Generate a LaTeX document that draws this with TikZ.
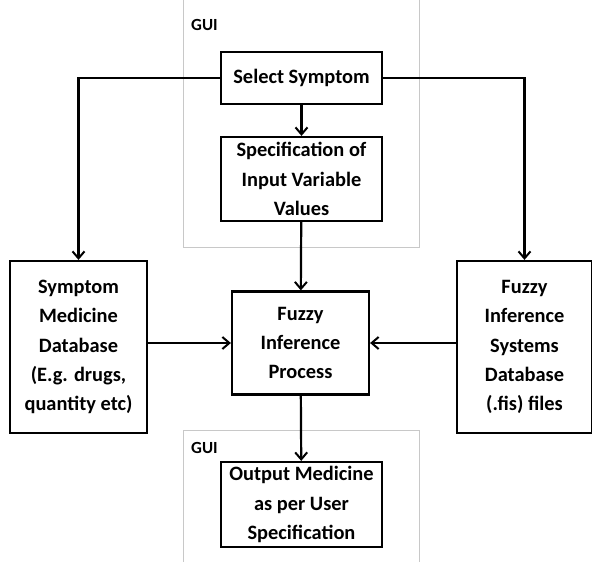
\documentclass[tikz,border=0pt]{standalone}
\usepackage{fontspec}
\setmainfont{Carlito}
\usetikzlibrary{arrows.meta}
\begin{document}
\begin{tikzpicture}[x=1pt,y=-1pt,
  box/.style={draw=black,line width=2.2pt,inner sep=0pt,align=center,
    font=\fontsize{20.4}{29.4}\selectfont\bfseries},
  conn/.style={draw=black,line width=2.2pt,-{Straight Barb[length=7pt,width=12pt,line width=2pt]}},
  frame/.style={draw={rgb,255:red,200;green,200;blue,200},line width=1pt},
  lbl/.style={anchor=west,inner sep=0pt,font=\fontsize{17}{20}\selectfont\bfseries}]
\useasboundingbox (0,0) rectangle (592,562);
% GUI frames
\draw[frame] (183,0) -- (183,247) -- (419,247) -- (419,0);
\draw[frame] (183,562) -- (183,430) -- (419,430) -- (419,562);
\node[lbl] (gui1) at (191,25) {GUI};
\node[lbl] (gui2) at (191,448) {GUI};
% boxes
\node[box,minimum width=161pt,minimum height=52pt] (sel) at (301.5,78) {Select Symptom};
\node[box,minimum width=161pt,minimum height=84pt] (spec) at (301.5,179) {Specification of\\Input Variable\\Values};
\node[box,minimum width=137pt,minimum height=172pt] (left) at (78.5,347) {Symptom\\Medicine\\Database\\(E.g. drugs,\\quantity etc)};
\node[box,minimum width=137pt,minimum height=103pt] (fip) at (300.5,343) {Fuzzy\\Inference\\Process};
\node[box,minimum width=135pt,minimum height=172pt] (right) at (524.5,347) {Fuzzy\\Inference\\Systems\\Database\\(.fis) files};
\node[box,minimum width=161pt,minimum height=85pt] (out) at (301.5,504.5) {Output Medicine\\as per User\\Specification};
% connectors
\coordinate (cl) at (78.5,78);
\coordinate (cr) at (524.5,78);
\draw[conn] (sel) -- (spec);
\draw[conn] (sel.west) -- (cl) -- (left.north);
\draw[conn] (sel.east) -- (cr) -- (right.north);
\draw[conn] (spec) -- (fip);
\draw[conn] (left.east |- fip.west) -- (fip.west);
\draw[conn] (right.west |- fip.east) -- (fip.east);
\draw[conn] (fip) -- (out);
\end{tikzpicture}
\end{document}
